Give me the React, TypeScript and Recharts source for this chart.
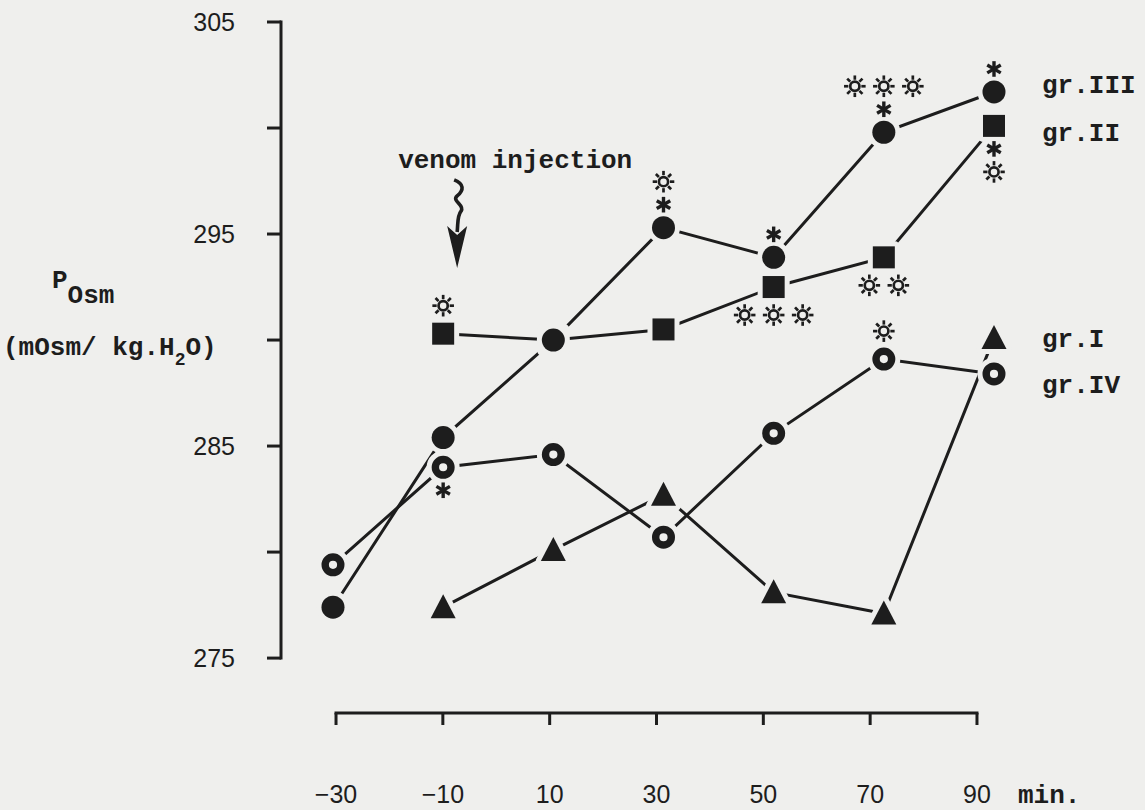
import React from 'react';
import {
  ComposedChart,
  Line,
  Scatter,
  XAxis,
  YAxis,
  ReferenceLine,
  ReferenceDot,
} from 'recharts';

// sampling times (min) relative to venom injection
const times = [-30, -10, 10, 30, 50, 70, 90];

// plasma osmolality, mOsm/kg H2O (null = not measured)
const grIII = [277.4, 285.4, 290.0, 295.3, 293.9, 299.8, 301.7];
const grII = [null, 290.3, 290.0, 290.5, 292.5, 293.9, 300.1];
const grI = [null, 277.4, 280.1, 282.7, 278.1, 277.1, 290.1];
const grIV = [279.4, 284.0, 284.6, 280.7, 285.6, 289.1, 288.4];

// significance marks, rows listed outward from the marker ('*' asterisk, '☼' sun)
const grIIIAbove = [[], [], [], ['*', '☼'], ['*'], ['*', '☼☼☼'], ['*']];
const grIIAbove = [[], ['☼'], [], [], [], [], []];
const grIIBelow = [[], [], [], [], ['☼☼☼'], ['☼☼'], ['*', '☼']];
const grIVAbove = [[], [], [], [], [], ['☼'], []];
const grIVBelow = [[], ['*'], [], [], [], [], []];

const yTicks = [275, 280, 285, 290, 295, 300, 305];
const yLabelled = [275, 285, 295, 305];
const injectionTime = -10;

const INK = '#1d1d1d';
const PAPER = '#efefed';
const MONO = '"Liberation Mono", "Courier New", monospace';
const SANS = '"Liberation Sans", Arial, sans-serif';

// the data are drawn slightly wider than the printed time axis
const DATA_X = [-39.44, 91.09];
const TICK_X = [-40.3, 94.31];
const Y_DOM = [272.41, 305];

type Marker = 'circle' | 'square' | 'triangle' | 'ring';

interface SeriesDef {
  name: string;
  values: (number | null)[];
  marker: Marker;
  above?: string[][];
  below?: string[][];
  labelDy: number;
}

// drawing order: the filled circles go on top
const series: SeriesDef[] = [
  { name: 'gr.I', values: grI, marker: 'triangle', labelDy: 0 },
  { name: 'gr.IV', values: grIV, marker: 'ring', above: grIVAbove, below: grIVBelow, labelDy: 10 },
  { name: 'gr.II', values: grII, marker: 'square', above: grIIAbove, below: grIIBelow, labelDy: 6 },
  { name: 'gr.III', values: grIII, marker: 'circle', above: grIIIAbove, labelDy: -8 },
];

const toPoints = (s: SeriesDef) =>
  times
    .map((t, i) => ({
      t,
      v: s.values[i],
      above: s.above?.[i] ?? [],
      below: s.below?.[i] ?? [],
      last: i === times.length - 1,
      name: s.name,
      labelDy: s.labelDy,
    }))
    .filter(p => p.v !== null);

const timeRows = times.map(t => ({ t }));

const Asterisk = ({ x, y }: { x: number; y: number }) => (
  <g stroke={INK} strokeWidth={3.4}>
    {[90, 30, 150].map(a => {
      const r = (a * Math.PI) / 180;
      const dx = Math.cos(r) * 7.8;
      const dy = Math.sin(r) * 7.8;
      return <line key={a} x1={x - dx} y1={y - dy} x2={x + dx} y2={y + dy} />;
    })}
  </g>
);

const Sun = ({ x, y }: { x: number; y: number }) => (
  <g stroke={INK} strokeWidth={2.7} fill="none">
    <circle cx={x} cy={y} r={4.6} />
    {[0, 45, 90, 135, 180, 225, 270, 315].map(a => {
      const r = (a * Math.PI) / 180;
      return (
        <line
          key={a}
          x1={x + Math.cos(r) * 6.5}
          y1={y + Math.sin(r) * 6.5}
          x2={x + Math.cos(r) * 10.8}
          y2={y + Math.sin(r) * 10.8}
        />
      );
    })}
  </g>
);

// each row is a string of glyphs, stacked away from the marker
function markRows(rows: string[], cx: number, cy: number, dir: number) {
  const out: React.ReactNode[] = [];
  let off = 12;
  rows.forEach((row, ri) => {
    const glyphs = Array.from(row);
    if (!glyphs.length) return;
    const half = glyphs[0] === '*' ? 7 : 12;
    off += 4 + half;
    const y = cy + dir * off;
    glyphs.forEach((g, gi) => {
      const x = cx + (gi - (glyphs.length - 1) / 2) * 29;
      out.push(
        g === '*' ? (
          <Asterisk key={`${ri}-${gi}`} x={x} y={y} />
        ) : (
          <Sun key={`${ri}-${gi}`} x={x} y={y} />
        )
      );
    });
    off += half;
  });
  return out;
}

function markerPath(m: Marker, cx: number, cy: number, fill: string, stroke?: string, sw = 0) {
  const common = { fill, stroke, strokeWidth: sw, strokeLinejoin: 'round' as const };
  if (m === 'circle' || m === 'ring') return <circle cx={cx} cy={cy} r={11.5} {...common} />;
  if (m === 'square') return <rect x={cx - 11} y={cy - 11} width={22} height={22} {...common} />;
  return (
    <polygon
      points={`${cx},${cy - 13} ${cx + 12.5},${cy + 11} ${cx - 12.5},${cy + 11}`}
      {...common}
    />
  );
}

const makeShape = (marker: Marker) => (props: any) => {
  const { cx, cy, payload } = props;
  if (cx == null || cy == null) return <g />;
  return (
    <g>
      {/* paper-coloured halo keeps the lines off the symbols */}
      {markerPath(marker, cx, cy, PAPER, PAPER, 10)}
      {marker === 'ring' ? (
        <circle cx={cx} cy={cy} r={7.8} fill={PAPER} stroke={INK} strokeWidth={7.4} />
      ) : (
        markerPath(marker, cx, cy, INK)
      )}
      {markRows(payload.above, cx, cy, -1)}
      {markRows(payload.below, cx, cy, 1)}
      {payload.last && (
        <text
          x={cx + 48}
          y={cy + payload.labelDy}
          dy="0.35em"
          fontFamily={MONO}
          fontSize={26}
          fontWeight={600}
          fill={INK}
        >
          {payload.name}
        </text>
      )}
    </g>
  );
};

const XTick = ({ x, y, payload }: any) => (
  <g>
    <text x={x} y={y + 78} textAnchor="middle" fontFamily={SANS} fontSize={25} fill={INK}>
      {payload.value < 0 ? `\u2212${Math.abs(payload.value)}` : payload.value}
    </text>
    {payload.value === times[times.length - 1] && (
      <text x={x + 41} y={y + 78} fontFamily={MONO} fontSize={26} fontWeight={600} fill={INK}>
        min.
      </text>
    )}
  </g>
);

const YTitle = () => (
  <g fill={INK} fontFamily={MONO} fontSize={26} fontWeight={600}>
    <text x={52} y={288}>
      P<tspan dy={15}>Osm</tspan>
    </text>
    <text x={3} y={355}>
      (mOsm/ kg.H
      <tspan fontSize={18} dy={10}>
        2
      </tspan>
      <tspan dy={-10}>O)</tspan>
    </text>
  </g>
);

const VenomArrow = ({ cx, cy }: any) => {
  const x = cx + 14;
  const y = cy;
  return (
    <g>
      <text x={cx - 45} y={cy - 100} fontFamily={MONO} fontSize={26} fontWeight={600} fill={INK}>
        venom injection
      </text>
      <path
        d={`M ${x - 3} ${y - 88} C ${x + 7} ${y - 84}, ${x + 7} ${y - 78}, ${x} ${y - 72} C ${x - 6} ${y - 67}, ${x + 8} ${y - 63}, ${x + 4} ${y - 57} C ${x} ${y - 52}, ${x + 1} ${y - 46}, ${x} ${y - 36}`}
        fill="none"
        stroke={INK}
        strokeWidth={3.6}
      />
      <polygon
        points={`${x - 10},${y - 42} ${x},${y} ${x + 10},${y - 42} ${x},${y - 33}`}
        fill={INK}
      />
    </g>
  );
};

export default function App() {
  return (
    <div style={{ width: 1145, height: 810, background: PAPER }}>
      <style>{`body{margin:0;background:${PAPER};}`}</style>
      <ComposedChart
        width={1145}
        height={810}
        data={timeRows}
        margin={{ top: 22, right: 145, bottom: 0, left: 0 }}
      >
        {/* positions the points; kept at the top so it takes no room at the bottom */}
        <XAxis
          xAxisId="d"
          type="number"
          dataKey="t"
          domain={DATA_X}
          orientation="top"
          height={0}
          hide
        />
        <XAxis
          xAxisId="k"
          type="number"
          dataKey="t"
          domain={TICK_X}
          ticks={times}
          height={97}
          axisLine={false}
          tickSize={12}
          tickMargin={0}
          tickLine={{ stroke: INK, strokeWidth: 3 }}
          tick={<XTick />}
          interval={0}
        />
        <YAxis
          type="number"
          domain={Y_DOM}
          ticks={yTicks}
          width={281}
          axisLine={false}
          tickSize={14}
          tickMargin={32}
          tickLine={{ stroke: INK, strokeWidth: 3 }}
          tick={{ fill: INK, fontSize: 25, fontFamily: SANS }}
          tickFormatter={(v: number) => (yLabelled.includes(v) ? String(v) : '')}
          interval={0}
          label={{ content: () => <YTitle /> }}
        />

        {/* axis lines stop at the end ticks */}
        <ReferenceLine
          xAxisId="d"
          ifOverflow="visible"
          segment={[
            { x: DATA_X[0], y: yTicks[0] },
            { x: DATA_X[0], y: yTicks[yTicks.length - 1] },
          ]}
          stroke={INK}
          strokeWidth={3}
          strokeLinecap="square"
        />
        <ReferenceLine
          xAxisId="k"
          ifOverflow="visible"
          segment={[
            { x: times[0], y: Y_DOM[0] },
            { x: times[times.length - 1], y: Y_DOM[0] },
          ]}
          stroke={INK}
          strokeWidth={3}
          strokeLinecap="square"
        />

        {series.map(s => (
          <Line
            key={`line-${s.name}`}
            xAxisId="d"
            data={toPoints(s)}
            dataKey="v"
            type="linear"
            stroke={INK}
            strokeWidth={3}
            dot={false}
            activeDot={false}
            isAnimationActive={false}
          />
        ))}
        {series.map(s => (
          <Scatter
            key={`pts-${s.name}`}
            xAxisId="d"
            data={toPoints(s)}
            dataKey="v"
            shape={makeShape(s.marker)}
            isAnimationActive={false}
          />
        ))}

        <ReferenceDot
          xAxisId="d"
          x={injectionTime}
          y={293.4}
          ifOverflow="visible"
          shape={(p: any) => <VenomArrow {...p} />}
        />
      </ComposedChart>
    </div>
  );
}
